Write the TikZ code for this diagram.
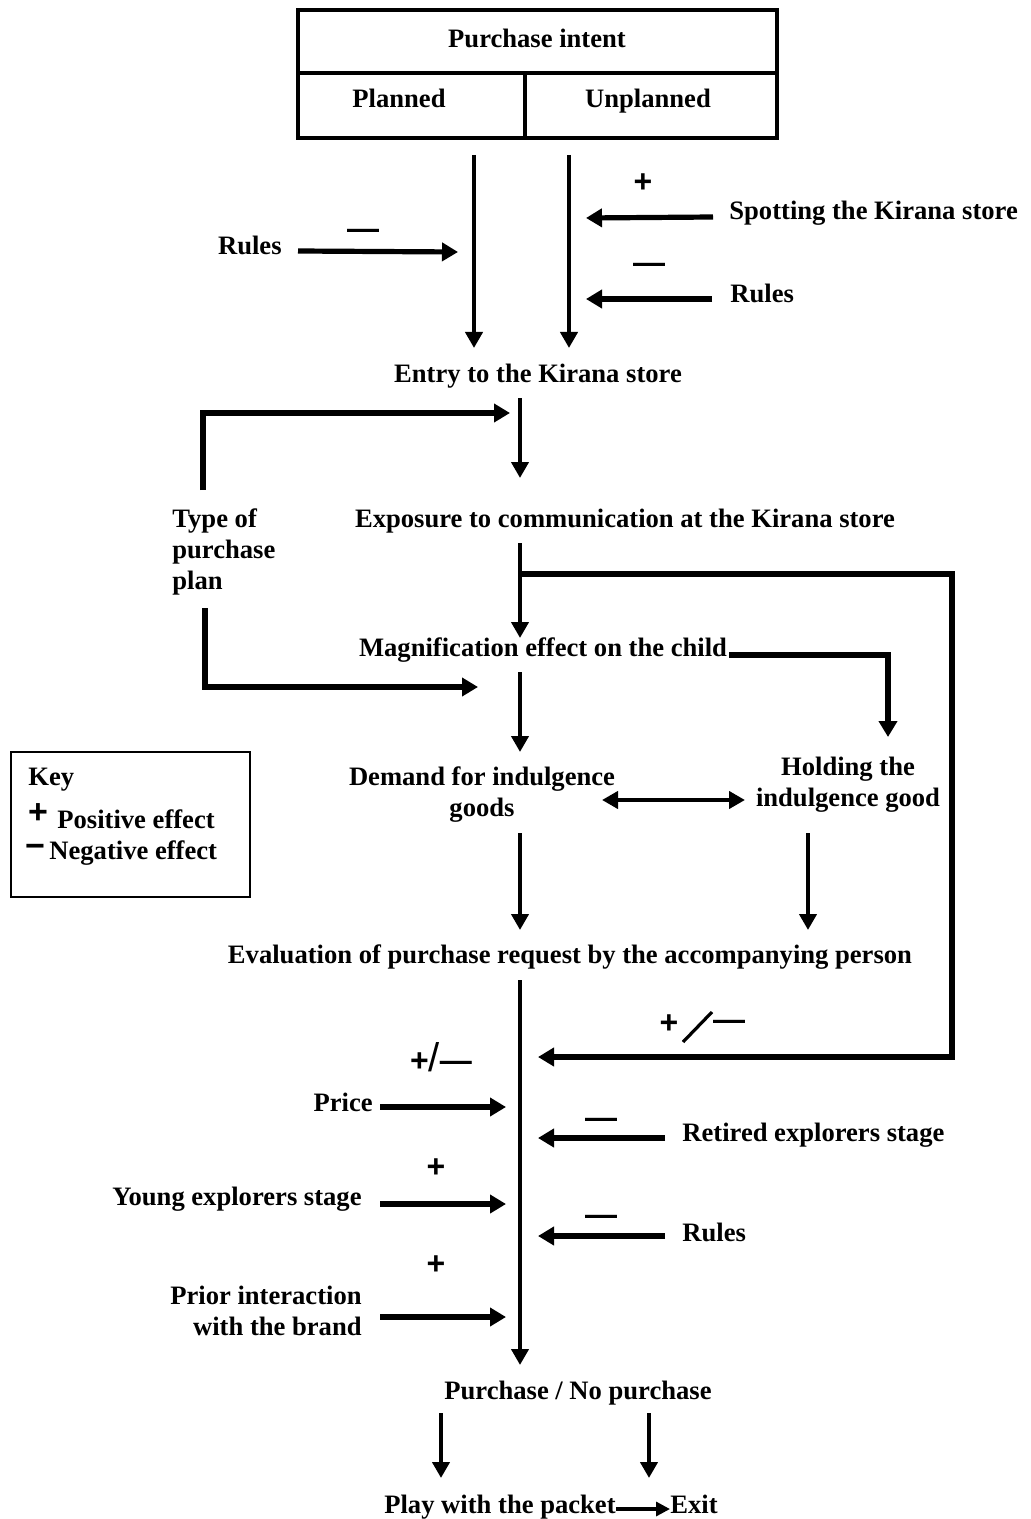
\documentclass[tikz,border=0pt]{standalone}
\usepackage{fontspec}
\setmainfont{Liberation Serif}
\newfontfamily\signfont{Liberation Sans}
\usetikzlibrary{arrows.meta,positioning}
\tikzset{
  lbl/.style={font=\fontsize{13.3}{15.5}\selectfont\bfseries, inner sep=0pt, align=center},
  sgn/.style={font=\signfont\fontsize{16}{16}\selectfont\bfseries, inner sep=0pt},
  keysgn/.style={font=\signfont\fontsize{17}{17}\selectfont\bfseries, inner sep=0pt},
  arr/.style={-{Triangle[length=8pt,width=8.5pt]}, line width=2pt},
  sidearr/.style={-{Triangle[length=8pt,width=9pt]}, line width=2.6pt},
  dblarr/.style={{Triangle[length=8pt,width=8.5pt]}-{Triangle[length=8pt,width=8.5pt]}, line width=2.4pt},
  thinarr/.style={-{Triangle[length=7pt,width=7pt]}, line width=1.6pt},
  slash/.style={line width=1.6pt},
  frame/.style={line width=2pt}
}
\begin{document}
\begin{tikzpicture}[x=0.5pt,y=-0.5pt]
  \useasboundingbox (0,0) rectangle (1030,1519);

  % purchase intent table
  \draw[frame] (298,10) rectangle (777,138);
  \draw[frame] (298,73) -- (777,73) (525,73) -- (525,138);
  \node[lbl] (intent) at (537,38) {Purchase intent};
  \node[lbl, anchor=base] (planned) at (399,108) {Planned};
  \node[lbl, anchor=base] (unplanned) at (648,108) {Unplanned};

  % entry
  \node[lbl] (entry) at (538,376) {Entry to the Kirana store};
  \coordinate (plstart) at (474,155);
  \coordinate (unstart) at (569,155);
  \draw[arr] (plstart) -- ++(0,193);
  \draw[arr] (unstart) -- ++(0,193);

  \node[lbl, anchor=east] (rulesA) at (282,245) {Rules};
  \node[sgn] (minA) at (363,234) {—};
  \draw[sidearr] ([xshift=8pt,yshift=-3pt]rulesA.east) -- (458,252);

  \node[lbl, anchor=west] (spot) at (729,213) {Spotting the Kirana store};
  \node[sgn] (plusB) at (643,183) {+};
  \draw[sidearr] ([xshift=-8pt,yshift=-2pt]spot.west) -- (586,218);

  \node[lbl, anchor=west] (rulesB) at (730,293) {Rules};
  \node[sgn] (minB) at (649,268) {—};
  \draw[sidearr] ([xshift=-9pt,yshift=-3pt]rulesB.west) -- (586,299);

  % exposure and type of plan
  \node[lbl] (expo) at (625,521) {Exposure to communication at the Kirana store};
  \draw[arr] (520,398) -- (520,478);
  \node[lbl, anchor=north west, align=left] (plantype) at (172,508) {Type of\\purchase\\plan};
  \coordinate (ptup) at (203,490);
  \coordinate (ptdown) at (205,608);
  \draw[sidearr] (ptup) |- (510,413);
  \draw[sidearr] (ptdown) |- (478,687);

  % magnification
  \node[lbl] (magn) at (543,650) {Magnification effect on the child};
  \draw[arr] (520,543) -- (520,638);
  \coordinate (loop) at (520,574);
  \draw[sidearr] (loop) -| (952,1057) -- (538,1057);
  \node[sgn] (plusloop) at (669,1024) {+};
  \draw[slash] (683,1042) -- (712,1012);
  \node[sgn] (minloop) at (729,1025) {—};
  \coordinate (magnout) at (729,655);
  \draw[sidearr] (magnout) -| (888,737);

  % demand and holding
  \draw[arr] (520,672) -- (520,752);
  \node[lbl] (demand) at (482,795) {Demand for indulgence\\goods};
  \node[lbl] (hold) at (848,785) {Holding the\\indulgence good};
  \draw[dblarr] (602,800) -- (745,800);
  \draw[arr] (520,833) -- (520,930);
  \draw[arr] (808,833) -- (808,930);

  % evaluation
  \node[lbl] (eval) at (570,957) {Evaluation of purchase request by the accompanying person};
  \coordinate (evalout) at (520,980);
  \draw[arr] (evalout) -- (520,1365);

  \node[lbl, anchor=east] (price) at (373,1102) {Price};
  \node[sgn] (pmprice) at (441,1057) {+{\fontsize{20}{20}\selectfont\mdseries/}—};
  \draw[sidearr] (380,1107) -- (506,1107);

  \node[lbl, anchor=east] (young) at (362,1199) {Young explorers stage};
  \node[sgn] (plusY) at (436,1168) {+};
  \draw[sidearr] (380,1204) -- (506,1204);

  \node[lbl, anchor=east, align=right] (prior) at (362,1311) {Prior interaction\\with the brand};
  \node[sgn] (plusP) at (436,1265) {+};
  \draw[sidearr] (380,1317) -- (506,1317);

  \node[lbl, anchor=west] (retired) at (682,1135) {Retired explorers stage};
  \node[sgn] (minR) at (601,1123) {—};
  \draw[sidearr] (665,1138) -- (538,1138);

  \node[lbl, anchor=west] (rulesC) at (682,1232) {Rules};
  \node[sgn] (minC) at (601,1220) {—};
  \draw[sidearr] (665,1236) -- (538,1236);

  % outcome
  \node[lbl] (purchase) at (578,1393) {Purchase / No purchase};
  \draw[arr] (441,1413) -- (441,1478);
  \draw[arr] (649,1413) -- (649,1478);
  \node[lbl, anchor=base east] (play) at (616,1513) {Play with the packet};
  \node[lbl, anchor=base west] (exit) at (670,1513) {Exit};
  \draw[thinarr] ([yshift=2pt]play.base east) -- ([yshift=2pt]exit.base west);

  % key
  \node[draw, line width=0.75pt, minimum width=119.5pt, minimum height=72.5pt, inner sep=0pt] (key) at (130.5,824.5) {};
  \node[lbl, anchor=west] (keytitle) at (28,780) {Key};
  \node[keysgn] (keyplus) at (38,814) {+};
  \node[lbl, anchor=west] (keypos) at (57,819) {Positive effect};
  \node[keysgn] (keyminus) at (35,851) {−};
  \node[lbl, anchor=west] (keyneg) at (49,853) {Negative effect};
\end{tikzpicture}
\end{document}
